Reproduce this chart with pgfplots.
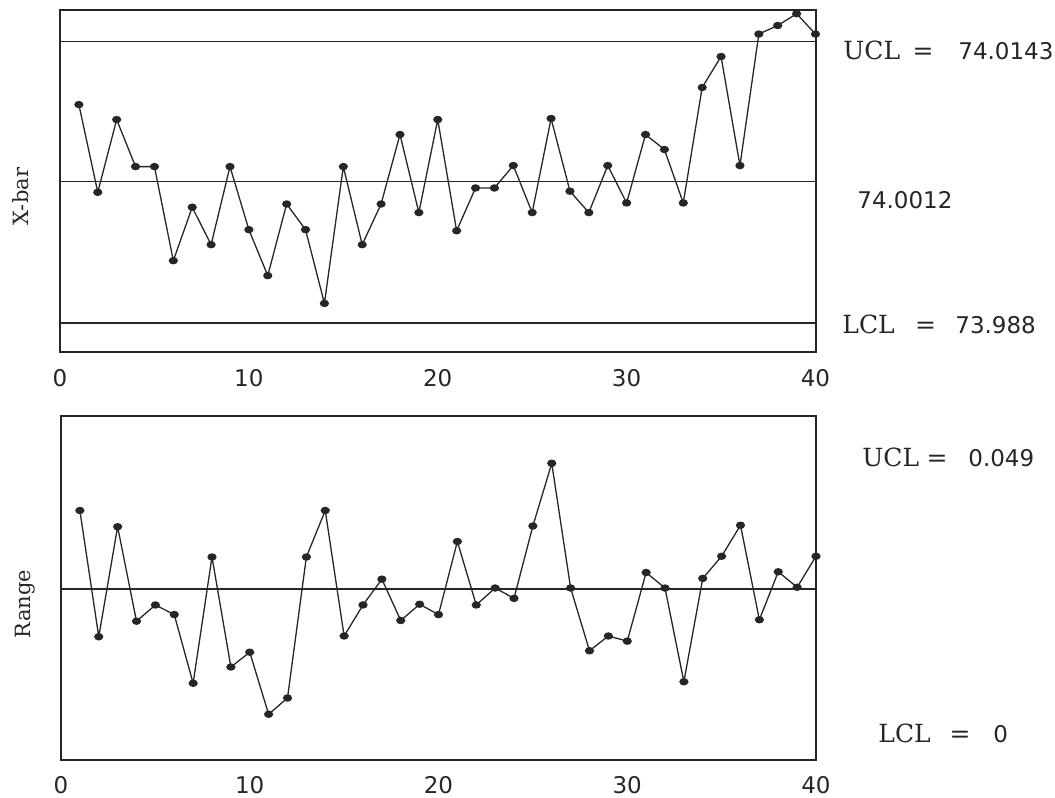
\documentclass[border=0pt]{standalone}
\usepackage{pgfplots}
\pgfplotsset{compat=1.18}
\usepackage{pgfplotstable}
\usepackage{fontspec}
\setmainfont{DejaVu Serif}
\newfontfamily\numfam{DejaVu Sans}
\newcommand\lbl{\fontsize{12.5bp}{15bp}\selectfont}
\newcommand\ylbl{\fontsize{10.5bp}{12bp}\selectfont}
\newcommand\num{\numfam\fontsize{11.5bp}{13bp}\selectfont}

\pgfplotstableread{
n xbar
1 74.0084
2 74.0002
3 74.0070
4 74.0026
5 74.0026
6 73.9938
7 73.9988
8 73.9953
9 74.0026
10 73.9967
11 73.9924
12 73.9991
13 73.9967
14 73.9898
15 74.0026
16 73.9953
17 73.9991
18 74.0056
19 73.9983
20 74.0070
21 73.9966
22 74.0006
23 74.0006
24 74.0027
25 73.9983
26 74.0071
27 74.0003
28 73.9983
29 74.0027
30 73.9992
31 74.0056
32 74.0042
33 73.9992
34 74.0100
35 74.0129
36 74.0027
37 74.0150
38 74.0158
39 74.0169
40 74.0150
}\xbardata

\pgfplotstableread{
n r
1 0.0338
2 0.0167
3 0.0316
4 0.0188
5 0.0210
6 0.0197
7 0.0104
8 0.0275
9 0.0126
10 0.0146
11 0.0062
12 0.0084
13 0.0275
14 0.0338
15 0.0168
16 0.0210
17 0.0245
18 0.0189
19 0.0211
20 0.0197
21 0.0296
22 0.0210
23 0.0233
24 0.0219
25 0.0317
26 0.0402
27 0.0233
28 0.0148
29 0.0168
30 0.0161
31 0.0254
32 0.0233
33 0.0106
34 0.0246
35 0.0276
36 0.0318
37 0.0190
38 0.0255
39 0.0234
40 0.0276
}\rangedata

\pgfplotsset{ccstyle/.style={
  scale only axis,
  xmin=0, xmax=40,
  xtick={0,10,20,30,40},
  ytick=\empty,
  major tick length=0pt,
  axis line style={line width=1bp, black!85},
  clip=false,
  xticklabel style={font=\num, text=black!85, yshift=-4.9bp},
  /pgf/number format/assume math mode=true,
}}
\tikzset{dataline/.style={black!85, line width=0.65bp, mark=*, mark size=1.7bp,
  mark options={solid, fill=black!85, xscale=1.15, yscale=0.9}},
  ctrl/.style={black!85, line width=0.85bp, no marks}}

\begin{document}
\begin{tikzpicture}
\path[use as bounding box] (0,0) rectangle (527.5bp,-399bp);

\begin{axis}[ccstyle, at={(30bp,-5bp)}, anchor=north west,
  width=377.75bp, height=171.25bp,
  ymin=73.98521, ymax=74.01725]
\addplot[ctrl] coordinates {(0,74.0143) (40,74.0143)};
\addplot[ctrl] coordinates {(0,74.0012) (40,74.0012)};
\addplot[ctrl] coordinates {(0,73.988) (40,73.988)};
\addplot[dataline] table[x=n, y=xbar] {\xbardata};
\end{axis}

\begin{axis}[ccstyle, at={(30.5bp,-208bp)}, anchor=north west,
  width=377.5bp, height=172bp,
  ymin=0, ymax=0.0466]
\addplot[ctrl] coordinates {(0,0.0232) (40,0.0232)};
\addplot[dataline] table[x=n, y=r] {\rangedata};
\end{axis}

% y labels
\node[rotate=90, anchor=base, text=black!85, font=\ylbl] at (14bp,-98.3bp) {X-bar};
\node[rotate=90, anchor=base, text=black!85, font=\ylbl] at (15bp,-302bp) {Range};

% right-hand labels, top
\node[anchor=base west, inner sep=0, text=black!85, font=\lbl] at (421.5bp,-29.5bp) {UCL};
\node[anchor=base, inner sep=0, text=black!85, font=\lbl] at (461.5bp,-29.5bp) {=};
\node[anchor=base west, inner sep=0, text=black!85, font=\num] at (479bp,-29.5bp) {74.0143};
\node[anchor=base west, inner sep=0, text=black!85, font=\num] at (428.5bp,-104bp) {74.0012};
\node[anchor=base west, inner sep=0, text=black!85, font=\lbl] at (421bp,-166.5bp) {LCL};
\node[anchor=base, inner sep=0, text=black!85, font=\lbl] at (462.75bp,-166.5bp) {=};
\node[anchor=base west, inner sep=0, text=black!85, font=\num] at (477.5bp,-166.5bp) {73.988};
% right-hand labels, bottom
\node[anchor=base west, inner sep=0, text=black!85, font=\lbl] at (431bp,-233bp) {UCL};
\node[anchor=base, inner sep=0, text=black!85, font=\lbl] at (468.5bp,-233bp) {=};
\node[anchor=base west, inner sep=0, text=black!85, font=\num] at (484bp,-233bp) {0.049};
\node[anchor=base west, inner sep=0, text=black!85, font=\lbl] at (439bp,-371bp) {LCL};
\node[anchor=base, inner sep=0, text=black!85, font=\lbl] at (480bp,-371bp) {=};
\node[anchor=base west, inner sep=0, text=black!85, font=\num] at (496.5bp,-371bp) {0};
\end{tikzpicture}
\end{document}
